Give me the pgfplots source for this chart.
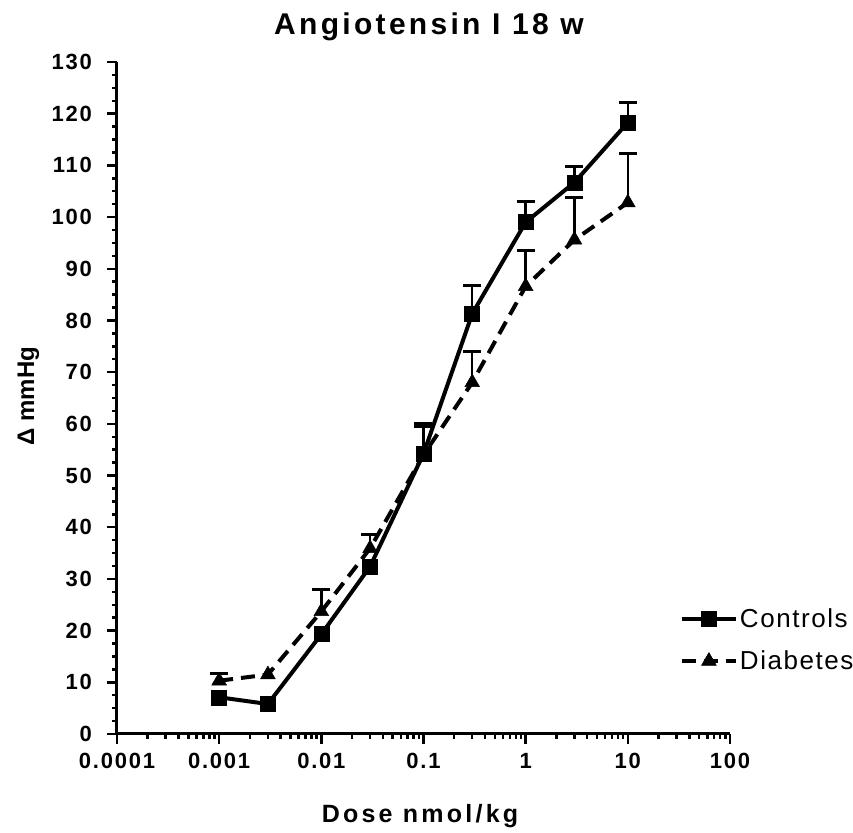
\documentclass[border=0pt]{standalone}
\usepackage{fontspec}
\setmainfont{Liberation Sans}
\newfontfamily\tickfont{Liberation Sans}[LetterSpace=8]
\newfontfamily\titlefont{Liberation Sans}[LetterSpace=11]
\newfontfamily\labelfont{Liberation Sans}[LetterSpace=13]
\newfontfamily\legfont{Liberation Sans}[LetterSpace=6]
\usepackage{pgfplots}
\pgfplotsset{compat=1.18}

\begin{document}
\begin{tikzpicture}
\path[use as bounding box] (0bp,0bp) rectangle (853bp,833bp);
\begin{axis}[
  at={(117bp,99bp)}, anchor=south west,
  scale only axis, width=613bp, height=672bp,
  xmode=log, xmin=1e-4, xmax=100, ymin=0, ymax=130,
  axis lines*=left, clip=false,
  axis line style={line width=3bp},
  tick align=outside,
  major tick length=10bp, minor tick length=5bp,
  every tick/.style={line width=2.5bp, black},
  xtick={1e-4,1e-3,1e-2,1e-1,1,10,100},
  xticklabels={0.0001,0.001,0.01,0.1,1,10,100},
  minor xtick={2e-4,3e-4,4e-4,5e-4,6e-4,7e-4,8e-4,9e-4,
               2e-3,3e-3,4e-3,5e-3,6e-3,7e-3,8e-3,9e-3,
               0.02,0.03,0.04,0.05,0.06,0.07,0.08,0.09,
               0.2,0.3,0.4,0.5,0.6,0.7,0.8,0.9,
               2,3,4,5,6,7,8,9,20,30,40,50,60,70,80,90},
  ytick={0,10,...,130}, minor y tick num=3,
  /pgf/number format/assume math mode=true,
  xticklabel style={font=\tickfont\bfseries\fontsize{22bp}{26bp}\selectfont, anchor=base, yshift=-25bp},
  yticklabel style={font=\tickfont\bfseries\fontsize{22bp}{26bp}\selectfont, anchor=east, inner sep=0pt, xshift=-15bp},
  legend style={at={(rel axis cs:0.918,0.19)}, anchor=north west, draw=none, fill=none,
    inner sep=0pt, row sep=18bp,
    font=\legfont\fontsize{26bp}{30bp}\selectfont,
    nodes={inner sep=2bp}},
  legend cell align=left,
  legend image code/.code={\draw[mark repeat=2, mark phase=2, #1] plot coordinates {(0bp,0bp) (27bp,0bp) (54bp,0bp)};},
]
% upper error bars, Controls
\addplot[forget plot, only marks, mark=none,
  error bars/.cd, y dir=plus, y explicit, error mark=|,
  error bar style={line width=2.5bp, black, solid},
  error mark options={line width=3bp, mark size=9bp, black, solid}]
  coordinates {
  (0.1,54.2) +- (0,5.9)
  (0.3,81.3) +- (0,5.5)
  (1,99.0) +- (0,4.1)
  (3,106.7) +- (0,3.1)
  (10,118.3) +- (0,3.9)
};
% upper error bars, Diabetes
\addplot[forget plot, only marks, mark=none,
  error bars/.cd, y dir=plus, y explicit, error mark=|,
  error bar style={line width=2.5bp, black, solid},
  error mark options={line width=3bp, mark size=9bp, black, solid}]
  coordinates {
  (0.001,10.3) +- (0,1.4)
  (0.01,23.7) +- (0,4.3)
  (0.03,35.9) +- (0,2.7)
  (0.1,54.0) +- (0,5.4)
  (0.3,68.0) +- (0,6.0)
  (1,86.6) +- (0,6.9)
  (3,95.6) +- (0,8.1)
  (10,102.8) +- (0,9.5)
};
% Controls
\addplot[black, line width=4bp, mark=square*, mark size=7.5bp,
  mark options={solid, line width=0.5bp}]
  coordinates {
  (0.001,7.1) (0.003,5.8) (0.01,19.3) (0.03,32.4) (0.1,54.2)
  (0.3,81.3) (1,99.0) (3,106.7) (10,118.3)
};
\addlegendentry{Controls}
% Diabetes
\addplot[black, line width=4bp, dash pattern=on 14bp off 8bp,
  mark=triangle*, mark size=8.5bp, mark options={solid, line width=0.5bp}]
  coordinates {
  (0.001,10.3) (0.003,11.5) (0.01,23.7) (0.03,35.9) (0.1,54.0)
  (0.3,68.0) (1,86.6) (3,95.6) (10,102.8)
};
\addlegendentry{Diabetes}
\end{axis}
\node[font=\titlefont\bfseries\fontsize{30bp}{34bp}\selectfont, anchor=base] at (429bp,798bp) {Angiotensin I 18 w};
\node[font=\labelfont\bfseries\fontsize{25bp}{29bp}\selectfont, anchor=base] at (420bp,11bp) {Dose nmol/kg};
\node[rotate=90, font=\bfseries\fontsize{24bp}{28bp}\selectfont, anchor=base] at (34bp,437bp) {Δ mmHg};
\end{tikzpicture}
\end{document}
